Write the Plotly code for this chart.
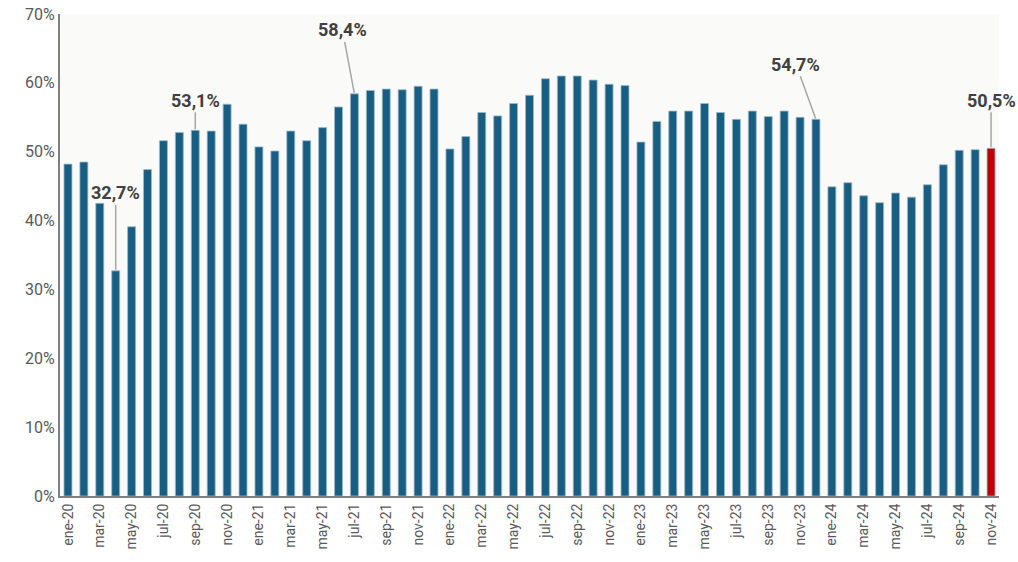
import plotly.graph_objects as go

months = ["ene", "feb", "mar", "abr", "may", "jun", "jul", "ago", "sep", "oct", "nov", "dic"]
categories = [f"{m}-{y}" for y in ["20", "21", "22", "23", "24"] for m in months][:59]

values = [
    48.2, 48.5, 42.5, 32.7, 39.1, 47.4, 51.6, 52.8, 53.1, 53.0, 56.9, 54.0,
    50.7, 50.1, 53.0, 51.6, 53.5, 56.5, 58.4, 58.9, 59.1, 59.0, 59.5, 59.1,
    50.4, 52.2, 55.7, 55.2, 57.0, 58.2, 60.6, 61.0, 61.0, 60.4, 59.8, 59.6,
    51.4, 54.4, 55.9, 55.9, 57.0, 55.7, 54.7, 55.9, 55.1, 55.9, 55.0, 54.7,
    44.9, 45.5, 43.6, 42.6, 44.0, 43.4, 45.2, 48.1, 50.2, 50.3, 50.5,
]

tick_labels = categories[::2]
y_ticks = [0, 10, 20, 30, 40, 50, 60, 70]
y_tick_text = [f"{v}%" for v in y_ticks]

# highlighted points: (category, text, ax, ay)
callouts = [
    ("abr-20", "32,7%", 0, -78),
    ("sep-20", "53,1%", 0, -30),
    ("jul-21", "58,4%", -12, -64),
    ("dic-23", "54,7%", -20, -55),
    ("nov-24", "50,5%", 0, -48),
]

blue = "#175E82"
red = "#C00000"
colors = [blue] * (len(values) - 1) + [red]

fig = go.Figure()
fig.add_trace(go.Bar(
    x=categories, y=values,
    marker=dict(color=colors, line=dict(color="#9DB9CB", width=0.8)),
    width=0.5,
))

for cat, txt, ax, ay in callouts:
    v = values[categories.index(cat)]
    fig.add_annotation(
        x=cat, y=v, text=f"<b>{txt}</b>", showarrow=True, arrowhead=0,
        arrowwidth=1.5, arrowcolor="#A6A6A6", ax=ax, ay=ay, standoff=1,
        font=dict(size=18, color="#404040", family="Roboto"),
    )

fig.update_layout(
    width=1018, height=562,
    margin=dict(l=60, r=19, t=14, b=66, autoexpand=False),
    paper_bgcolor="white", plot_bgcolor="#FAFAF8",
    showlegend=False,
    font=dict(family="Roboto", color="#595959"),
)
fig.update_xaxes(
    type="category", range=[-0.5, len(categories) - 0.5],
    tickmode="array", tickvals=tick_labels, ticktext=tick_labels,
    tickangle=-90, tickfont=dict(size=14, color="#595959"), automargin=False,
    showline=True, linecolor="#808080", linewidth=2, showgrid=False, ticks="",
)
fig.update_yaxes(
    range=[0, 70], tickmode="array", tickvals=y_ticks, ticktext=y_tick_text,
    tickfont=dict(size=16, color="#595959"), automargin=False,
    showline=True, linecolor="#808080", linewidth=2, showgrid=False, zeroline=False, ticks="",
)

fig.write_html(
    "out.html",
    config={"displayModeBar": False},
    post_script="document.body.style.margin='0';document.body.style.overflow='hidden';",
)
